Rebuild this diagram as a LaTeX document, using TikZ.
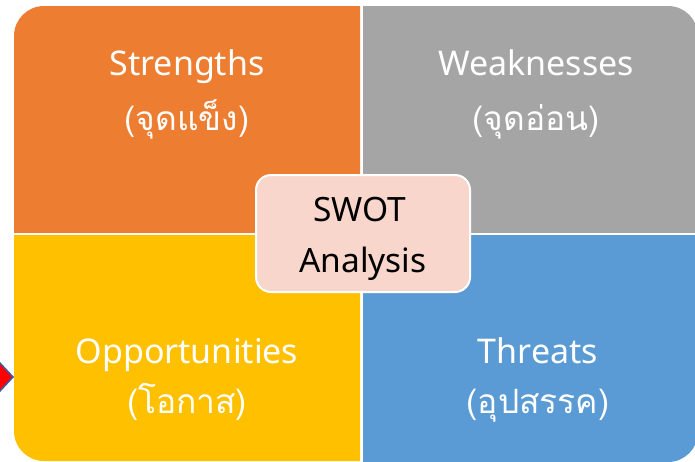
\documentclass[tikz,border=0pt]{standalone}
\usepackage{fontspec}
\setmainfont{Noto Sans}
\newfontfamily\thaifont[Script=Thai]{Loma}
\definecolor{qorange}{HTML}{ED7D31}
\definecolor{qgray}{HTML}{A5A5A5}
\definecolor{qyellow}{HTML}{FFC000}
\definecolor{qblue}{HTML}{5B9BD5}
\definecolor{cpink}{HTML}{F8D6CB}
\definecolor{arrowblue}{HTML}{3A5A9E}
\begin{document}
\begin{tikzpicture}[x=1pt,y=-1pt,
  lbl/.style={text=white,font=\fontsize{34}{40}\selectfont,anchor=base,inner sep=0pt},
  thl/.style={text=white,font=\thaifont\fontsize{33.5}{40}\selectfont,anchor=base,inner sep=0pt},
  ctext/.style={text=black,font=\fontsize{33.5}{38}\selectfont,anchor=base,inner sep=0pt},
  quad/.style={rounded corners=30pt}]
\useasboundingbox (0,0) rectangle (695,461);
% partial arrow at left
\filldraw[fill=red,draw=arrowblue,line width=1.5pt] (-14,348) -- (13,377) -- (-14,406) -- cycle;
% quadrants
\begin{scope}\clip (14,6) rectangle (360,232);
  \fill[qorange,quad] (14,6) rectangle (700,600);\end{scope}
\begin{scope}\clip (363,6) rectangle (700,232);
  \fill[qgray,quad] (0,6) rectangle (698,600);\end{scope}
\begin{scope}\clip (14,235) rectangle (360,470);
  \fill[qyellow,quad] (14,-100) rectangle (700,461);\end{scope}
\begin{scope}\clip (363,235) rectangle (700,470);
  \fill[qblue,quad] (0,-100) rectangle (698,462);\end{scope}
% labels
\node[lbl] (s1) at (187,75) {Strengths};
\node[thl] (s2) at (187,130) {(จุดแข็ง)};
\node[lbl] (w1) at (536,75) {Weaknesses};
\node[thl] (w2) at (536,130) {(จุดอ่อน)};
\node[lbl] (o1) at (187,363) {Opportunities};
\node[thl] (o2) at (187,413) {(โอกาส)};
\node[lbl] (t1) at (538,363) {Threats};
\node[thl] (t2) at (538,413) {(อุปสรรค)};
% centre box
\node[draw=white,line width=2pt,fill=cpink,rounded corners=15pt,minimum width=214pt,minimum height=117pt,inner sep=0pt] (c) at (363,233.5) {};
\node[ctext] (c1) at (360,221) {SWOT};
\node[ctext] (c2) at (363,272) {Analysis};
\end{tikzpicture}
\end{document}
